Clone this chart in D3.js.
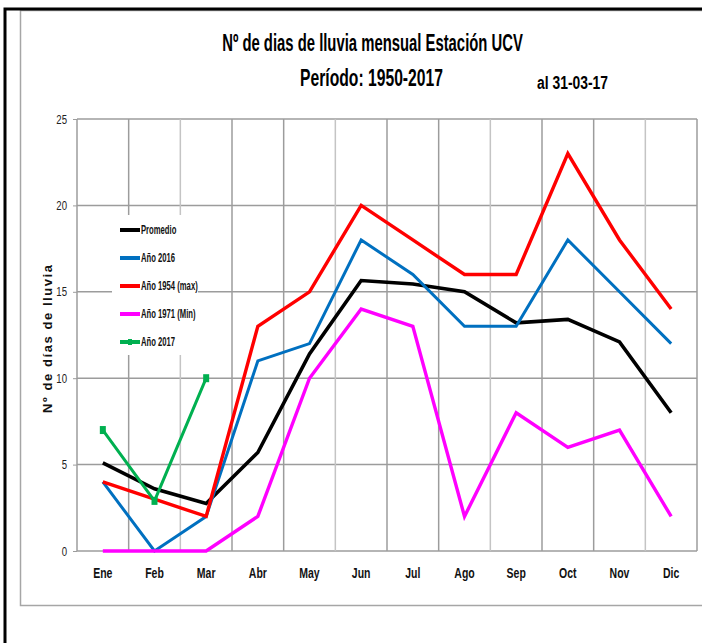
<!DOCTYPE html>
<html>
<head>
<meta charset="utf-8">
<script src="https://cdn.jsdelivr.net/npm/d3@7"></script>
<style>
  html, body { margin: 0; padding: 0; background: #fff; }
  .narrow { font-family: 'Liberation Sans', Arial, sans-serif; }
</style>
</head>
<body>
<svg id="chart" width="702" height="643"></svg>
<script>
const months = ['Ene', 'Feb', 'Mar', 'Abr', 'May', 'Jun', 'Jul', 'Ago', 'Sep', 'Oct', 'Nov', 'Dic'];
const promedio = [5.1, 3.6, 2.75, 5.7, 11.4, 15.65, 15.45, 15.0, 13.2, 13.4, 12.1, 8.0];
const anio2016 = [4, 0, 2, 11, 12, 18, 16, 13, 13, 18, 15, 12];
const anio1954 = [4, 3, 2, 13, 15, 20, 18, 16, 16, 23, 18, 14];
const anio1971 = [0, 0, 0, 2, 10, 14, 13, 2, 8, 6, 7, 2];
const anio2017 = [7, 2.9, 10];
const yTicks = [0, 5, 10, 15, 20, 25];

const series = [
  { name: 'Promedio', values: promedio, color: '#000000', width: 3.6 },
  { name: 'Año 2016', values: anio2016, color: '#0070C0', width: 3 },
  { name: 'Año 1954 (max)', values: anio1954, color: '#FF0000', width: 3.4 },
  { name: 'Año 1971 (Min)', values: anio1971, color: '#FF00FF', width: 3.4 },
  { name: 'Año 2017', values: anio2017, color: '#00B050', width: 3, marker: true }
];

const svg = d3.select('#chart');

// frames
svg.append('rect').attr('x', 20.5).attr('y', 10.5).attr('width', 700).attr('height', 595)
  .attr('fill', 'none').attr('stroke', '#a6a6a6').attr('stroke-width', 1.5);
svg.append('path').attr('d', 'M5,643V9H702')
  .attr('fill', 'none').attr('stroke', '#000').attr('stroke-width', 3);

const plot = { left: 77, right: 697, top: 119, bottom: 551 };

const x = d3.scaleBand().domain(months).range([plot.left, plot.right]);
const y = d3.scaleLinear().domain([0, 25]).range([plot.bottom, plot.top]);

const g = svg.append('g');

// horizontal grid
g.append('g').selectAll('line').data(yTicks).join('line')
  .attr('x1', plot.left).attr('x2', plot.right)
  .attr('y1', d => y(d)).attr('y2', d => y(d))
  .attr('stroke', '#9c9c9c').attr('stroke-width', 1.5);

// vertical grid at category boundaries
const bounds = months.map(m => x(m)).concat([plot.right]);
g.append('g').selectAll('line').data(bounds).join('line')
  .attr('x1', d => d).attr('x2', d => d)
  .attr('y1', plot.top).attr('y2', plot.bottom)
  .attr('stroke', (d, i) => i % 3 === 2 ? '#c4c4c4' : '#9c9c9c').attr('stroke-width', 1.5);

// y axis ticks and labels
const yAxis = d3.axisLeft(y).tickValues(yTicks).tickSize(4).tickPadding(6);
const ya = svg.append('g').attr('transform', `translate(${plot.left},0)`).call(yAxis);
ya.select('.domain').remove();
ya.selectAll('.tick line').attr('stroke', '#9c9c9c');
ya.selectAll('.tick text').attr('class', 'narrow').attr('font-size', 13).attr('fill', '#222')
  .attr('transform', 'translate(-7,0) scale(0.74,1)').attr('x', -4);

// x axis labels
const xAxis = d3.axisBottom(x).tickSize(0).tickPadding(16);
const xa = svg.append('g').attr('transform', `translate(0,${plot.bottom})`).call(xAxis);
xa.select('.domain').remove();
xa.selectAll('.tick text').attr('class', 'narrow').attr('font-size', 15).attr('font-weight', 'bold').attr('fill', '#111')
  .attr('transform', 'scale(0.7,1)');

// legend background (blocks gridlines)
svg.append('rect').attr('x', 112).attr('y', 215).attr('width', 86).attr('height', 140).attr('fill', '#fff');

// series lines
const line = d3.line().x((d, i) => x(months[i]) + x.bandwidth() / 2).y(d => y(d));
series.forEach(s => {
  svg.append('path').datum(s.values).attr('d', line)
    .attr('fill', 'none').attr('stroke', s.color).attr('stroke-width', s.width)
    .attr('stroke-linejoin', 'miter');
  if (s.marker) {
    svg.append('g').selectAll('rect').data(s.values).join('rect')
      .attr('x', (d, i) => x(months[i]) + x.bandwidth() / 2 - 3)
      .attr('y', d => y(d) - 4)
      .attr('width', 6).attr('height', 8)
      .attr('fill', s.color);
  }
});

// legend
const leg = svg.append('g').attr('transform', 'translate(120,230)');
series.forEach((s, i) => {
  const row = leg.append('g').attr('transform', `translate(0,${i * 28})`);
  row.append('line').attr('x1', 0).attr('x2', 20).attr('y1', 0).attr('y2', 0)
    .attr('stroke', s.color).attr('stroke-width', 4);
  if (s.marker) {
    row.append('rect').attr('x', 8).attr('y', -3).attr('width', 4).attr('height', 6).attr('fill', s.color);
  }
  row.append('text').attr('class', 'narrow')
    .attr('transform', 'translate(21,4) scale(0.64,1)')
    .attr('font-size', 12).attr('font-weight', 'bold').attr('fill', '#111').text(s.name);
});

// titles: condensed by measuring the text and squeezing it horizontally
const title = (txt, cx, cy, size, len) => {
  const t = svg.append('text').attr('class', 'narrow')
    .attr('text-anchor', 'middle')
    .attr('font-size', size).attr('font-weight', 'bold')
    .text(txt);
  const w = t.node().getComputedTextLength();
  t.attr('transform', `translate(${cx},${cy}) scale(${len / w},1)`);
};
title('Nº de dias de lluvia mensual Estación UCV', 372.5, 51, 24, 301);
title('Período:  1950-2017', 371.5, 86, 24, 143);
title('al 31-03-17', 572.5, 89, 18, 71);

// y axis title
svg.append('text')
  .attr('transform', 'translate(52,339) rotate(-90)')
  .attr('text-anchor', 'middle')
  .attr('font-family', 'Liberation Sans, Arial, sans-serif')
  .attr('font-size', 13).attr('font-weight', 'bold').attr('fill', '#111')
  .attr('textLength', 148).attr('lengthAdjust', 'spacing')
  .text('Nº de días de lluvia');
</script>
</body>
</html>
